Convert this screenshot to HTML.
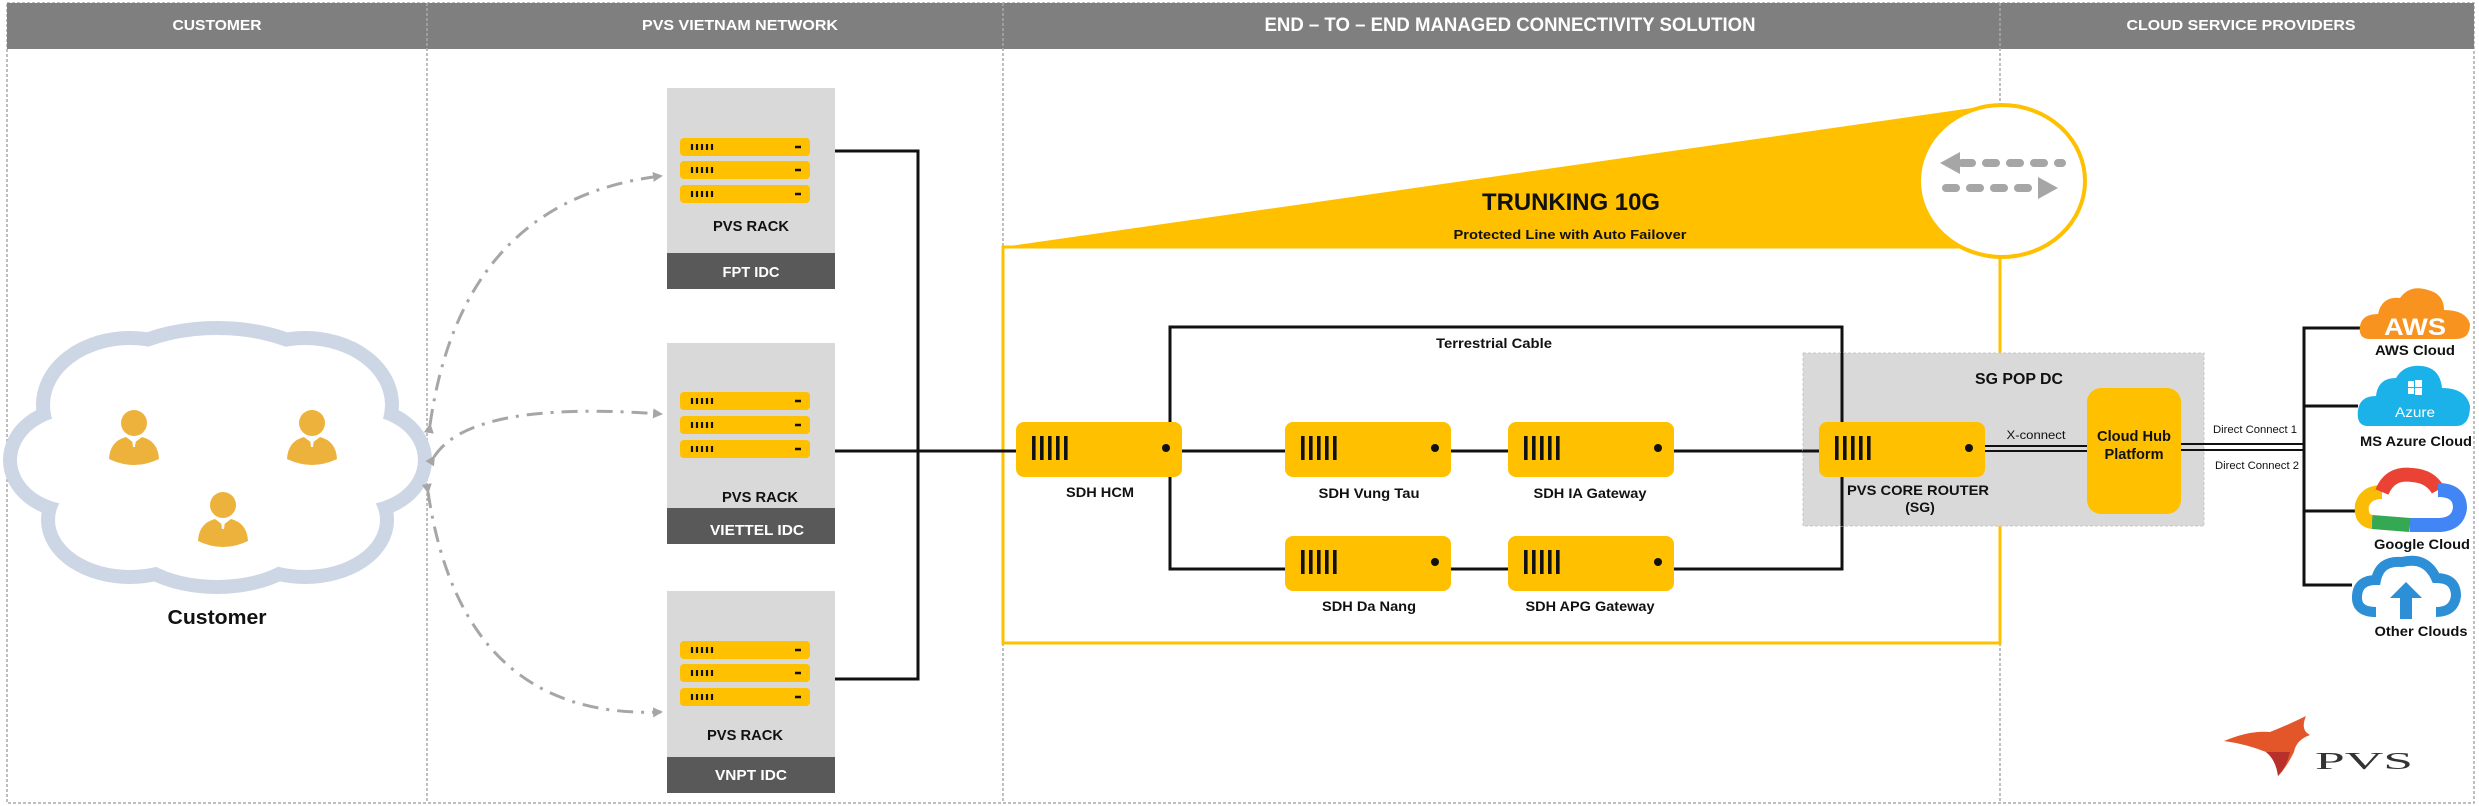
<!DOCTYPE html>
<html><head><meta charset="utf-8"><style>
html,body{margin:0;padding:0;background:#fff}
svg{display:block}
text{font-family:"Liberation Sans",Arial,sans-serif;font-weight:bold}
</style></head><body>
<svg width="2479" height="806" viewBox="0 0 2479 806" xmlns="http://www.w3.org/2000/svg">
<defs>
<marker id="ar" markerWidth="10" markerHeight="10" refX="8" refY="5" orient="auto" markerUnits="userSpaceOnUse"><path d="M0,0 L10,5 L0,10 Z" fill="#a6a6a6"/></marker>
<g id="bar"><rect x="0" y="0" width="130" height="18" rx="4" fill="#FFC000"/><g stroke="#111" stroke-width="2.2"><line x1="12" y1="6" x2="12" y2="12"/><line x1="17" y1="6" x2="17" y2="12"/><line x1="22" y1="6" x2="22" y2="12"/><line x1="27" y1="6" x2="27" y2="12"/><line x1="32" y1="6" x2="32" y2="12"/></g><line x1="115" y1="9" x2="121" y2="9" stroke="#111" stroke-width="2.5"/></g>
<g id="sdh"><rect x="0" y="0" width="166" height="55" rx="8" fill="#FFC000"/><g fill="#111"><rect x="16" y="14" width="3.6" height="24"/><rect x="24" y="14" width="3.6" height="24"/><rect x="32" y="14" width="3.6" height="24"/><rect x="40" y="14" width="3.6" height="24"/><rect x="48" y="14" width="3.6" height="24"/></g><circle cx="150" cy="26" r="4" fill="#111"/></g>
<g id="person"><circle cx="0" cy="-14" r="13" fill="#EDB23C"/><path d="M-25,22 Q-24,4 -8,0 L0,6 L8,0 Q24,4 25,22 Q0,34 -25,22 Z" fill="#EDB23C"/><path d="M-2,2 L2,2 L1,10 L-1,10Z" fill="#fff"/></g>
</defs>

<!-- outer frame -->
<rect x="7" y="3" width="2467" height="800" fill="none" stroke="#aaa" stroke-width="1.5" stroke-dasharray="3,2"/>
<!-- header -->
<rect x="7" y="3" width="2467" height="46" fill="#7f7f7f"/>
<g stroke="#aaa" stroke-width="1.5" stroke-dasharray="3,2">
<line x1="427" y1="3" x2="427" y2="803"/>
<line x1="1003" y1="3" x2="1003" y2="803"/>
<line x1="2000" y1="3" x2="2000" y2="803"/>
</g>
<g fill="#fff" font-size="15">
<text x="217" y="30" text-anchor="middle" textLength="89" lengthAdjust="spacingAndGlyphs">CUSTOMER</text>
<text x="740" y="30" text-anchor="middle" textLength="196" lengthAdjust="spacingAndGlyphs">PVS VIETNAM NETWORK</text>
<text x="1510" y="31" text-anchor="middle" font-size="19" textLength="491" lengthAdjust="spacingAndGlyphs">END – TO – END MANAGED CONNECTIVITY SOLUTION</text>
<text x="2241" y="30" text-anchor="middle" textLength="229" lengthAdjust="spacingAndGlyphs">CLOUD SERVICE PROVIDERS</text>
</g>

<!-- customer cloud -->
<g fill="#cdd6e4" stroke="#cdd6e4" stroke-width="28">
<ellipse cx="217" cy="400" rx="120" ry="65"/><ellipse cx="130" cy="405" rx="80" ry="60"/><ellipse cx="305" cy="405" rx="80" ry="60"/>
<ellipse cx="75" cy="460" rx="58" ry="45"/><ellipse cx="360" cy="460" rx="58" ry="45"/><ellipse cx="130" cy="520" rx="75" ry="50"/>
<ellipse cx="305" cy="520" rx="75" ry="50"/><ellipse cx="217" cy="530" rx="90" ry="50"/><ellipse cx="217" cy="460" rx="150" ry="80"/>
</g>
<g fill="#fff">
<ellipse cx="217" cy="400" rx="120" ry="65"/><ellipse cx="130" cy="405" rx="80" ry="60"/><ellipse cx="305" cy="405" rx="80" ry="60"/>
<ellipse cx="75" cy="460" rx="58" ry="45"/><ellipse cx="360" cy="460" rx="58" ry="45"/><ellipse cx="130" cy="520" rx="75" ry="50"/>
<ellipse cx="305" cy="520" rx="75" ry="50"/><ellipse cx="217" cy="530" rx="90" ry="50"/><ellipse cx="217" cy="460" rx="150" ry="80"/>
</g>
<use href="#person" x="134" y="437"/><use href="#person" x="312" y="437"/><use href="#person" x="223" y="519"/>
<text x="217" y="624" text-anchor="middle" font-size="20" fill="#111" textLength="99" lengthAdjust="spacingAndGlyphs">Customer</text>

<!-- arcs -->
<g fill="none" stroke="#a6a6a6" stroke-width="3" stroke-dasharray="16,8,3,8" marker-end="url(#ar)" marker-start="url(#ar)">
<path d="M430,425 Q462,200 661,176"/>
<path d="M434,457 Q470,400 661,414"/>
<path d="M428,492 Q462,720 661,712"/>
</g>

<!-- racks -->
<g>
<rect x="667" y="88" width="168" height="201" fill="#d9d9d9"/><rect x="667" y="253" width="168" height="36" fill="#595959"/>
<use href="#bar" x="680" y="138"/><use href="#bar" x="680" y="161"/><use href="#bar" x="680" y="185"/>
<text x="751" y="231" text-anchor="middle" font-size="15" fill="#111" textLength="76" lengthAdjust="spacingAndGlyphs">PVS RACK</text>
<text x="751" y="277" text-anchor="middle" font-size="15" fill="#fff" textLength="57" lengthAdjust="spacingAndGlyphs">FPT IDC</text>

<rect x="667" y="343" width="168" height="201" fill="#d9d9d9"/><rect x="667" y="508" width="168" height="36" fill="#595959"/>
<use href="#bar" x="680" y="392"/><use href="#bar" x="680" y="416"/><use href="#bar" x="680" y="440"/>
<text x="760" y="502" text-anchor="middle" font-size="15" fill="#111" textLength="76" lengthAdjust="spacingAndGlyphs">PVS RACK</text>
<text x="757" y="535" text-anchor="middle" font-size="15" fill="#fff" textLength="94" lengthAdjust="spacingAndGlyphs">VIETTEL  IDC</text>

<rect x="667" y="591" width="168" height="202" fill="#d9d9d9"/><rect x="667" y="757" width="168" height="36" fill="#595959"/>
<use href="#bar" x="680" y="641"/><use href="#bar" x="680" y="664"/><use href="#bar" x="680" y="688"/>
<text x="745" y="740" text-anchor="middle" font-size="15" fill="#111" textLength="76" lengthAdjust="spacingAndGlyphs">PVS RACK</text>
<text x="751" y="780" text-anchor="middle" font-size="15" fill="#fff" textLength="72" lengthAdjust="spacingAndGlyphs">VNPT IDC</text>
</g>

<!-- wedge & yellow frame -->
<polygon points="1003,247 2000,104 2000,247" fill="#FFC000"/>
<rect x="1003" y="247" width="997" height="396" fill="none" stroke="#FFC000" stroke-width="3"/>
<line x1="2000" y1="250" x2="2000" y2="643" stroke="#FFC000" stroke-width="3"/>
<ellipse cx="2002" cy="181" rx="83" ry="76" fill="#fff" stroke="#FFC000" stroke-width="4"/>
<g fill="none" stroke="#a6a6a6" stroke-width="8" stroke-linecap="round" stroke-dasharray="10,14">
<line x1="1962" y1="163" x2="2062" y2="163"/>
<line x1="1946" y1="188" x2="2040" y2="188"/>
</g>
<polygon points="1940,163 1960,152 1960,174" fill="#a6a6a6"/>
<polygon points="2058,188 2038,177 2038,199" fill="#a6a6a6"/>
<text x="1571" y="210" text-anchor="middle" font-size="24" fill="#111" textLength="178" lengthAdjust="spacingAndGlyphs">TRUNKING 10G</text>
<text x="1570" y="239" text-anchor="middle" font-size="13" fill="#111" textLength="233" lengthAdjust="spacingAndGlyphs">Protected Line with Auto Failover</text>

<!-- black lines -->
<g fill="none" stroke="#111" stroke-width="3">
<polyline points="835,151 918,151 918,679 835,679"/>
<line x1="835" y1="451" x2="1016" y2="451"/>
<line x1="1182" y1="451" x2="1819" y2="451"/>
<polyline points="1170,451 1170,327 1842,327 1842,422"/>
<polyline points="1170,477 1170,569 1842,569 1842,477"/>
</g>

<!-- SG box -->
<rect x="1803" y="353" width="401" height="173" fill="#d9d9d9" stroke="#c8c8c8" stroke-dasharray="3,2"/>
<g fill="none" stroke="#111" stroke-width="3">
<line x1="1842" y1="353" x2="1842" y2="422"/><line x1="1842" y1="477" x2="1842" y2="526"/>
<line x1="1803" y1="451" x2="1819" y2="451"/>
</g>
<text x="2019" y="384" text-anchor="middle" font-size="16" fill="#111" textLength="88" lengthAdjust="spacingAndGlyphs">SG POP DC</text>
<rect x="2087" y="388" width="94" height="126" rx="14" fill="#FFC000"/>
<text x="2134" y="441" text-anchor="middle" font-size="15" fill="#111" textLength="74" lengthAdjust="spacingAndGlyphs">Cloud Hub</text>
<text x="2134" y="459" text-anchor="middle" font-size="15" fill="#111" textLength="59" lengthAdjust="spacingAndGlyphs">Platform</text>
<text x="2036" y="439" text-anchor="middle" font-size="12" font-weight="normal" fill="#111" textLength="59" lengthAdjust="spacingAndGlyphs" style="font-weight:normal">X-connect</text>
<g stroke="#111" stroke-width="2">
<line x1="1985" y1="446" x2="2087" y2="446"/><line x1="1985" y1="451" x2="2087" y2="451"/>
<line x1="2181" y1="444" x2="2305" y2="444"/><line x1="2181" y1="450" x2="2305" y2="450"/>
</g>
<text x="2255" y="433" text-anchor="middle" font-size="11" fill="#111" textLength="84" lengthAdjust="spacingAndGlyphs" style="font-weight:normal">Direct Connect 1</text>
<text x="2257" y="469" text-anchor="middle" font-size="11" fill="#111" textLength="84" lengthAdjust="spacingAndGlyphs" style="font-weight:normal">Direct Connect 2</text>

<!-- SDH boxes -->
<use href="#sdh" x="1016" y="422"/><use href="#sdh" x="1285" y="422"/><use href="#sdh" x="1508" y="422"/>
<use href="#sdh" x="1285" y="536"/><use href="#sdh" x="1508" y="536"/><use href="#sdh" x="1819" y="422"/>
<g font-size="14" fill="#111" text-anchor="middle">
<text x="1100" y="497" textLength="68" lengthAdjust="spacingAndGlyphs">SDH HCM</text>
<text x="1369" y="498" textLength="101" lengthAdjust="spacingAndGlyphs">SDH Vung Tau</text>
<text x="1590" y="498" textLength="113" lengthAdjust="spacingAndGlyphs">SDH IA Gateway</text>
<text x="1369" y="611" textLength="94" lengthAdjust="spacingAndGlyphs">SDH Da Nang</text>
<text x="1590" y="611" textLength="129" lengthAdjust="spacingAndGlyphs">SDH APG Gateway</text>
<text x="1918" y="495" textLength="142" lengthAdjust="spacingAndGlyphs">PVS CORE ROUTER</text>
<text x="1920" y="512">(SG)</text>
<text x="1494" y="348" textLength="116" lengthAdjust="spacingAndGlyphs">Terrestrial Cable</text>
</g>

<!-- cloud provider tree -->
<g fill="none" stroke="#111" stroke-width="3">
<polyline points="2361,328 2304,328 2304,585 2352,585"/>
<line x1="2304" y1="406" x2="2358" y2="406"/>
<line x1="2304" y1="511" x2="2355" y2="511"/>
</g>
<!-- AWS -->
<path d="M2370,339 Q2358,339 2360,326 Q2362,314 2378,314 Q2382,296 2400,298 Q2410,284 2428,290 Q2444,294 2444,310 Q2466,310 2470,324 Q2470,339 2456,339 Z" fill="#F7931E"/>
<text x="2415" y="335" text-anchor="middle" font-size="24" fill="#fff" textLength="62" lengthAdjust="spacingAndGlyphs">AWS</text>
<text x="2415" y="355" text-anchor="middle" font-size="14" fill="#111" textLength="80" lengthAdjust="spacingAndGlyphs">AWS Cloud</text>
<!-- Azure -->
<path d="M2368,426 Q2356,426 2358,410 Q2360,396 2376,396 Q2378,378 2396,378 Q2404,364 2422,366 Q2440,368 2442,388 Q2466,388 2470,406 Q2470,426 2456,426 Z" fill="#1AB2E8"/>
<g fill="#fff"><rect x="2408" y="381" width="6" height="6"/><rect x="2415" y="380" width="7" height="7"/><rect x="2408" y="388" width="6" height="6"/><rect x="2415" y="388" width="7" height="7"/></g>
<text x="2415" y="417" text-anchor="middle" font-size="14" fill="#fff" style="font-weight:normal" textLength="40" lengthAdjust="spacingAndGlyphs">Azure</text>
<text x="2416" y="446" text-anchor="middle" font-size="14" fill="#111" textLength="112" lengthAdjust="spacingAndGlyphs">MS Azure Cloud</text>
<!-- Google -->
<g fill="none" stroke-width="14">
<path d="M2372,522 Q2360,520 2362,505 Q2366,492 2382,492" stroke="#FBBC05"/>
<path d="M2382,492 Q2390,472 2412,475 Q2430,476 2438,490" stroke="#EA4335"/>
<path d="M2438,490 Q2460,490 2460,508 Q2458,524 2440,525 L2410,525" stroke="#4285F4"/>
<path d="M2410,525 L2372,522" stroke="#34A853"/>
</g>
<text x="2422" y="549" text-anchor="middle" font-size="14" fill="#111" textLength="96" lengthAdjust="spacingAndGlyphs">Google Cloud</text>
<!-- Other -->
<path d="M2376,612 Q2356,612 2357,596 Q2358,580 2376,580 Q2380,560 2402,562 Q2426,556 2436,578 Q2456,578 2456,596 Q2454,612 2436,612" fill="none" stroke="#2D8FD5" stroke-width="10"/>
<polygon points="2406,582 2422,598 2412,598 2412,619 2400,619 2400,598 2390,598" fill="#2D8FD5"/>
<text x="2421" y="636" text-anchor="middle" font-size="14" fill="#111" textLength="93" lengthAdjust="spacingAndGlyphs">Other Clouds</text>

<!-- PVS logo -->
<path d="M2224,741 Q2250,730 2270,732 Q2290,724 2306,716 Q2300,730 2310,735 Q2296,740 2294,752 Q2286,768 2278,776 Q2276,760 2266,752 Q2246,744 2224,741 Z" fill="#E2562A"/>
<path d="M2266,752 Q2276,760 2278,776 Q2286,768 2290,752 Z" fill="#B8302A"/>
<text x="2364" y="769" text-anchor="middle" font-size="24" fill="#333" style="font-family:'Liberation Serif',serif;font-weight:normal" textLength="98" lengthAdjust="spacingAndGlyphs">PVS</text>
</svg>
</body></html>
